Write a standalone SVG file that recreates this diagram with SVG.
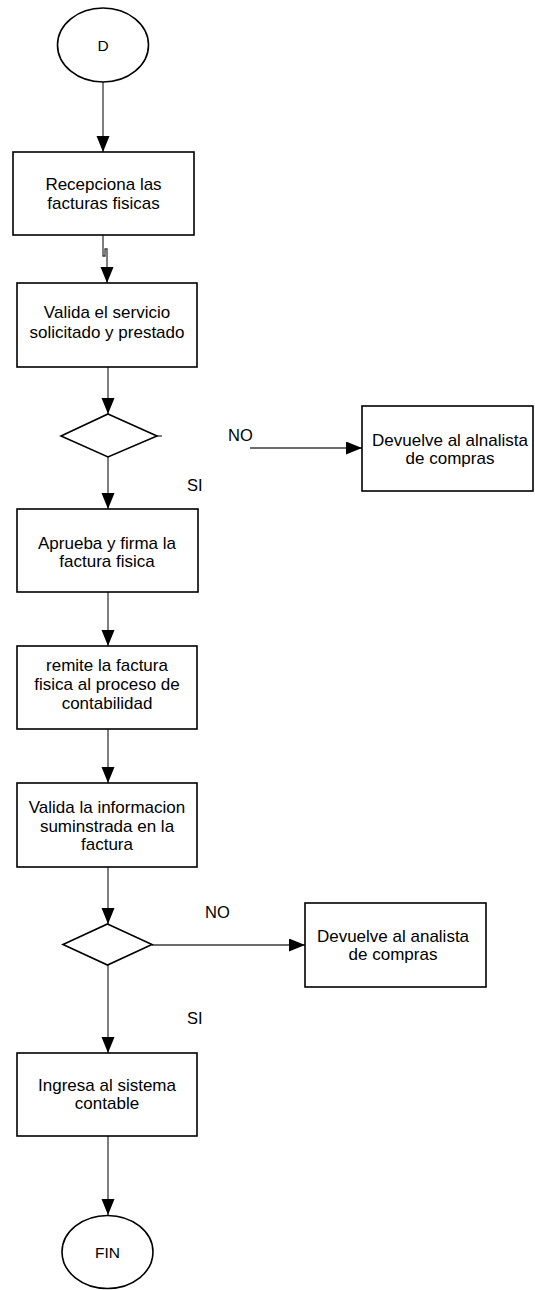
<svg xmlns="http://www.w3.org/2000/svg" width="535" height="1290" viewBox="0 0 535 1290">
  <style>
    .shape { fill: #ffffff; stroke: #000000; stroke-width: 1.6; }
    .conn { fill: none; stroke: #3a3a3a; stroke-width: 1.3; }
    .txt { font-family: "Liberation Sans", Arial, sans-serif; font-size: 17px; fill: #000000; text-anchor: middle; }
    .lbl { font-family: "Liberation Sans", Arial, sans-serif; font-size: 16.5px; fill: #000000; }
  </style>
  <defs>
    <marker id="arrow" markerUnits="userSpaceOnUse" markerWidth="16" markerHeight="14" viewBox="0 0 16 14" refX="16" refY="6.5" orient="auto">
      <path d="M0,0 L16,6.5 L0,13 Z" fill="#000000"/>
    </marker>
  </defs>
  <rect width="535" height="1290" fill="#ffffff"/>

  <!-- connectors -->
  <g id="connectors">
    <line class="conn" x1="103" y1="82" x2="103" y2="152" marker-end="url(#arrow)"/>
    <path class="conn" d="M103,235 V256 H105 V249 H107 V283" marker-end="url(#arrow)"/>
    <line class="conn" x1="108" y1="367" x2="108" y2="414" marker-end="url(#arrow)"/>
    <line class="conn" x1="157" y1="436" x2="162" y2="436"/>
    <line class="conn" x1="250" y1="448" x2="362" y2="448" marker-end="url(#arrow)"/>
    <line class="conn" x1="108" y1="457" x2="108" y2="509" marker-end="url(#arrow)"/>
    <line class="conn" x1="108" y1="592" x2="108" y2="646" marker-end="url(#arrow)"/>
    <line class="conn" x1="108" y1="729" x2="108" y2="783" marker-end="url(#arrow)"/>
    <line class="conn" x1="108" y1="867" x2="108" y2="924" marker-end="url(#arrow)"/>
    <line class="conn" x1="152" y1="945" x2="305" y2="945" marker-end="url(#arrow)"/>
    <line class="conn" x1="108" y1="965" x2="108" y2="1053" marker-end="url(#arrow)"/>
    <line class="conn" x1="108" y1="1136" x2="108" y2="1215" marker-end="url(#arrow)"/>
  </g>

  <!-- branch labels -->
  <g id="labels">
    <text class="lbl" x="228" y="441">NO</text>
    <text class="lbl" x="187" y="491">SI</text>
    <text class="lbl" x="205" y="918">NO</text>
    <text class="lbl" x="187" y="1024">SI</text>
  </g>

  <g id="inicio">
    <ellipse class="shape" cx="103" cy="45" rx="45.5" ry="37"/>
    <text class="txt" x="103" y="51" style="font-size:15.5px">D</text>
  </g>

  <g id="recepciona">
    <rect class="shape" x="13" y="152" width="181" height="83"/>
    <text class="txt" x="103.5" y="190">Recepciona las</text>
    <text class="txt" x="103.5" y="209">facturas fisicas</text>
  </g>

  <g id="valida-servicio">
    <rect class="shape" x="17" y="283" width="180" height="84"/>
    <text class="txt" x="107" y="318">Valida el servicio</text>
    <text class="txt" x="107" y="338">solicitado y prestado</text>
  </g>

  <g id="decision-1">
    <polygon class="shape" points="108,414 157,436 108,457 61,436"/>
  </g>

  <g id="devuelve-1">
    <rect class="shape" x="362" y="406" width="171" height="85"/>
    <text class="txt" x="450" y="446">Devuelve al alnalista</text>
    <text class="txt" x="450" y="464">de compras</text>
  </g>

  <g id="aprueba">
    <rect class="shape" x="17" y="509" width="181" height="83"/>
    <text class="txt" x="107" y="549">Aprueba y firma la</text>
    <text class="txt" x="107" y="567">factura fisica</text>
  </g>

  <g id="remite">
    <rect class="shape" x="17" y="646" width="180" height="83"/>
    <text class="txt" x="107" y="671">remite la factura</text>
    <text class="txt" x="107" y="690">fisica al proceso de</text>
    <text class="txt" x="107" y="709">contabilidad</text>
  </g>

  <g id="valida-info">
    <rect class="shape" x="17" y="783" width="180" height="84"/>
    <text class="txt" x="107" y="813">Valida la informacion</text>
    <text class="txt" x="107" y="832">suminstrada en la</text>
    <text class="txt" x="107" y="850">factura</text>
  </g>

  <g id="decision-2">
    <polygon class="shape" points="107.5,924 152,944.5 107.5,965 63,944.5"/>
  </g>

  <g id="devuelve-2">
    <rect class="shape" x="305" y="903" width="181" height="84"/>
    <text class="txt" x="393" y="942">Devuelve al analista</text>
    <text class="txt" x="393" y="960">de compras</text>
  </g>

  <g id="ingresa">
    <rect class="shape" x="17" y="1053" width="180" height="83"/>
    <text class="txt" x="107" y="1091">Ingresa al sistema</text>
    <text class="txt" x="107" y="1109">contable</text>
  </g>

  <g id="fin">
    <ellipse class="shape" cx="107.5" cy="1252" rx="45.5" ry="36.5"/>
    <text class="txt" x="107.5" y="1258" style="font-size:15.5px">FIN</text>
  </g>
</svg>
